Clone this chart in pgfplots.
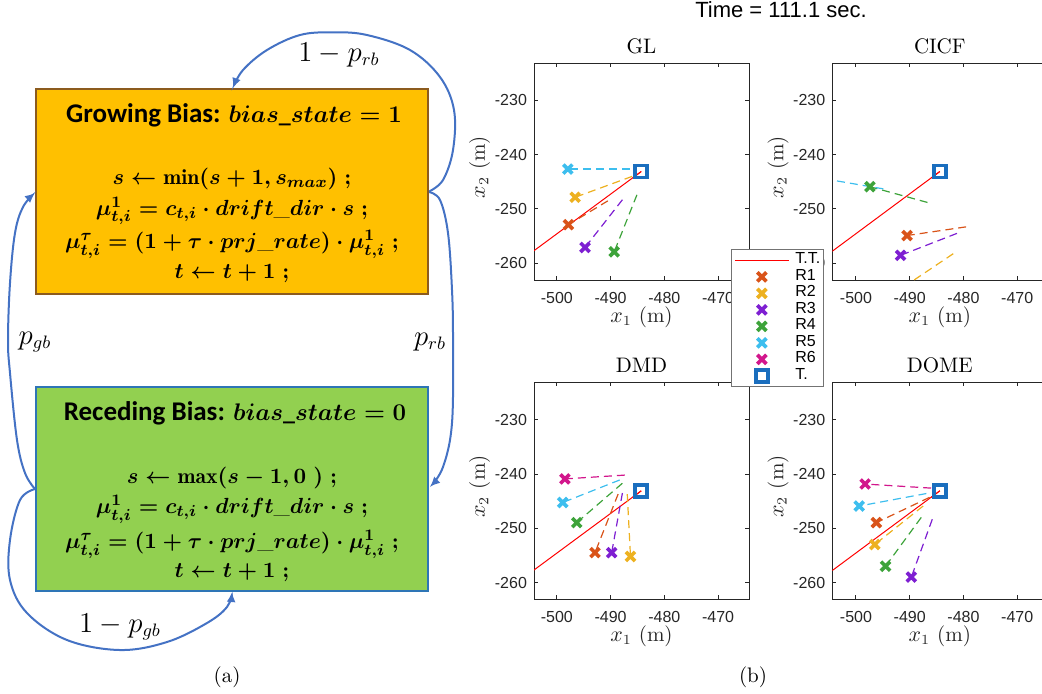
\documentclass[border=0pt]{standalone}
\usepackage{pgfplots}
\pgfplotsset{compat=1.18}
\usepackage{fontspec}
\newfontfamily\helv{Liberation Sans}
\newfontfamily\calib{Carlito}
\usetikzlibrary{arrows.meta}
\definecolor{orfill}{HTML}{FFC000}
\definecolor{orbrd}{HTML}{8C5B1E}
\definecolor{grfill}{HTML}{92D050}
\definecolor{grbrd}{HTML}{2E75B6}
\definecolor{arrblue}{HTML}{4472C4}
\definecolor{cA}{HTML}{D95319}
\definecolor{cB}{HTML}{EDB120}
\definecolor{cC}{HTML}{7E1FD2}
\definecolor{cD}{HTML}{3DA33A}
\definecolor{cE}{HTML}{3DBEEE}
\definecolor{cF}{HTML}{D2168C}
\definecolor{tblue}{HTML}{1A6EBE}
\definecolor{axgray}{HTML}{262626}
\newcommand{\TitleFont}{\calib\bfseries\fontsize{13.5}{16}\selectfont}
\newcommand{\EqFont}{\fontsize{10.8}{13}\selectfont}
\newcommand{\LblFont}{\fontsize{13.5}{16}\selectfont}
\newcommand{\us}{\mbox{\textunderscore}}
\newcommand{\eq}[1]{{\boldmath$#1$}}
\newcommand{\eqT}[1]{{\fontsize{12}{14}\selectfont\boldmath$#1$}}
\tikzset{eqline/.style={anchor=base, inner sep=0pt, font=\EqFont, text height=7pt, text depth=2.5pt}}
\pgfplotsset{
  panel/.style={
    scale only axis, width=107.5pt, height=108.5pt,
    ymin=-263.1, ymax=-223.1,
    xtick={-500,-490,-480,-470}, xticklabels={-500,-490,-480,-470},
    ytick={-260,-250,-240,-230}, yticklabels={-260,-250,-240,-230},
    axis line style={axgray, line width=0.5pt},
    tick style={axgray, line width=0.5pt},
    tick align=inside, major tick length=2pt,
    tick label style={font=\helv\fontsize{8}{9}\selectfont, text=axgray},
    xticklabel style={yshift=-2.4pt},
    xlabel={$x_1$ (m)}, ylabel={$x_2$ (m)},
    label style={font=\fontsize{10.5}{12}\selectfont, text=axgray},
    xlabel style={at={(axis description cs:0.5,-0.1935)}, anchor=base},
    ylabel style={at={(axis description cs:-0.228,0.52)}, anchor=base},
    title style={at={(axis description cs:0.5,1)}, anchor=base, yshift=-1pt, font=\fontsize{10.5}{12}\selectfont},
    clip=true,
  },
  tt/.style={red, line width=0.5pt, no markers, forget plot},
  rob/.style={only marks, mark=x, mark size=3.2pt, line width=1.8pt, color=#1, forget plot},
  est/.style={#1, line width=0.6pt, dash pattern=on 4pt off 2.5pt, no markers, forget plot},
  tgt/.style={only marks, mark=square, mark size=3pt, line width=1.8pt, color=tblue, forget plot},
}
\begin{document}
\begin{tikzpicture}
\path[use as bounding box] (0,0) rectangle (521pt,-346.5pt);
\clip (0,0) rectangle (521pt,-346.5pt);
\begin{scope}[x=0.5pt,y=-0.5pt]
% ---------- flowchart ----------
\draw[draw=orbrd, fill=orfill, line width=1pt] (36,89) rectangle (428,294);
\draw[draw=grbrd, fill=grfill, line width=1pt] (36,387) rectangle (428,591);
\path (234,122.7) node[anchor=base, inner sep=0pt, font=\TitleFont] {Growing Bias: \eqT{bias\us state = 1}};
\path (232,184.3) node[eqline] {\eq{s \leftarrow \min(s+1, s_{max})\;;}};
\path (232,215) node[eqline] {\eq{\mu^{1}_{t,i} = c_{t,i}\cdot drift\us dir\cdot s\;;}};
\path (232,248.3) node[eqline] {\eq{\mu^{\tau}_{t,i} = (1+\tau\cdot prj\us rate)\cdot \mu^{1}_{t,i}\;;}};
\path (232,278.3) node[eqline] {\eq{t \leftarrow t+1\;;}};
\path (235,420) node[anchor=base, inner sep=0pt, font=\TitleFont] {Receding Bias: \eqT{bias\us state = 0}};
\path (232,483.3) node[eqline] {\eq{s \leftarrow \max(s-1, 0\ )\;;}};
\path (232,513.3) node[eqline] {\eq{\mu^{1}_{t,i} = c_{t,i}\cdot drift\us dir\cdot s\;;}};
\path (232,548.3) node[eqline] {\eq{\mu^{\tau}_{t,i} = (1+\tau\cdot prj\us rate)\cdot \mu^{1}_{t,i}\;;}};
\path (232,577.3) node[eqline] {\eq{t \leftarrow t+1\;;}};
% arrows
\begin{scope}[arrblue, line width=1pt]
\draw[-{Latex[length=5pt,width=4.5pt]}] plot[smooth, tension=0.6] coordinates {(429,191.5) (443,180) (453,150) (454,110) (440,77) (410,50) (367,35) (333,32.3) (300,35) (267,50) (243,70) (233,88)};
\draw[-{Latex[length=5pt,width=4.5pt]}] plot[smooth, tension=0.6] coordinates {(429,192) (440,200) (448,233) (452,290) (453,340) (452,423) (443,467) (430,486.7)};
\draw[-{Latex[length=5pt,width=4.5pt]}] plot[smooth, tension=0.6] coordinates {(35,489) (25,473) (17,440) (10,373) (8,340) (10,283) (15,233) (23,207) (35,193)};
\draw[-{Latex[length=5pt,width=4.5pt]}] plot[smooth, tension=0.6] coordinates {(35,489) (20,500) (10,540) (10,580) (27,613) (67,640) (120,650) (167,642) (207,623) (227,607) (232,592)};
\end{scope}
\path (339,55) node[font=\LblFont] {$1-p_{rb}$};
\path (35,342) node[font=\LblFont] {$p_{gb}$};
\path (430,342) node[font=\LblFont] {$p_{rb}$};
\path (120,627) node[font=\LblFont] {$1-p_{gb}$};
\path (227,677) node[font=\fontsize{10.5}{12}\selectfont] {(a)};
\path (753,677) node[font=\fontsize{10.5}{12}\selectfont] {(b)};
\path (781,17.5) node[anchor=base, font=\helv\fontsize{11}{13}\selectfont] {Time = 111.1 sec.};
\end{scope}
% ---------- CICF ----------
\begin{axis}[panel, at={(416.15pt,-140pt)}, anchor=south west, xmin=-504.4, xmax=-464.4, title={CICF}]
\addplot[tt] coordinates {(-484.4,-243.1) (-510,-261.9)};
\addplot[est=cA] coordinates {(-479.5,-253.3) (-490.5,-254.9)};
\addplot[rob=cA] coordinates {(-490.5,-254.9)};
\addplot[est=cB] coordinates {(-481.9,-258.25) (-494,-266.3)};
\addplot[rob=cB] coordinates {(-494,-266.3)};
\addplot[est=cC] coordinates {(-481.2,-254.5) (-491.7,-258.55)};
\addplot[rob=cC] coordinates {(-491.7,-258.55)};
\addplot[est=cD] coordinates {(-486.7,-248.8) (-497.4,-245.9)};
\addplot[rob=cD] coordinates {(-497.4,-245.9)};
\addplot[est=cE] coordinates {(-494.9,-246.3) (-512,-243.4)};
\addplot[rob=cE] coordinates {(-512,-243.4)};
\addplot[tgt] coordinates {(-484.4,-243.1)};
\addplot[tt] coordinates {(-484.4,-243.1) (-486,-244.3)};
\end{axis}
% ---------- DMD ----------
\begin{axis}[panel, at={(267pt,-299.65pt)}, anchor=south west, xmin=-504.25, xmax=-464.25, title={DMD}]
\addplot[tt] coordinates {(-484.3,-243.1) (-510,-261.9)};
\addplot[est=cA] coordinates {(-488.6,-243.7) (-492.9,-254.5)};
\addplot[rob=cA] coordinates {(-492.9,-254.5)};
\addplot[est=cB] coordinates {(-486.9,-243.7) (-486.3,-255.2)};
\addplot[rob=cB] coordinates {(-486.3,-255.2)};
\addplot[est=cC] coordinates {(-487.8,-243.5) (-489.8,-254.5)};
\addplot[rob=cC] coordinates {(-489.8,-254.5)};
\addplot[est=cD] coordinates {(-487.8,-241.7) (-496.3,-248.96)};
\addplot[rob=cD] coordinates {(-496.3,-248.96)};
\addplot[est=cE] coordinates {(-488.3,-241.1) (-498.9,-245.25)};
\addplot[rob=cE] coordinates {(-498.9,-245.25)};
\addplot[est=cF] coordinates {(-487.35,-240.2) (-498.5,-240.9)};
\addplot[rob=cF] coordinates {(-498.5,-240.9)};
\addplot[tgt] coordinates {(-484.3,-243.1)};
\addplot[tt] coordinates {(-484.3,-243.1) (-485.9,-244.3)};
\end{axis}
% ---------- DOME ----------
\begin{axis}[panel, at={(416.15pt,-299.65pt)}, anchor=south west, xmin=-504.4, xmax=-464.4, title={DOME}]
\addplot[tt] coordinates {(-484.4,-243.1) (-510,-261.9)};
\addplot[est=cA] coordinates {(-486.3,-244.3) (-496.2,-248.96)};
\addplot[rob=cA] coordinates {(-496.2,-248.96)};
\addplot[est=cB] coordinates {(-487.5,-245.9) (-496.5,-253)};
\addplot[rob=cB] coordinates {(-496.5,-253)};
\addplot[est=cC] coordinates {(-485.8,-248.35) (-489.7,-259)};
\addplot[rob=cC] coordinates {(-489.7,-259)};
\addplot[est=cD] coordinates {(-487.85,-248) (-494.5,-257)};
\addplot[rob=cD] coordinates {(-494.5,-257)};
\addplot[est=cE] coordinates {(-486.9,-243.6) (-499.4,-245.9)};
\addplot[rob=cE] coordinates {(-499.4,-245.9)};
\addplot[est=cF] coordinates {(-486,-242.6) (-498.3,-241.85)};
\addplot[rob=cF] coordinates {(-498.3,-241.85)};
\addplot[tgt] coordinates {(-484.4,-243.1)};
\addplot[tt] coordinates {(-484.4,-243.1) (-486,-244.3)};
\end{axis}
% ---------- GL (with legend) ----------
\begin{axis}[panel, at={(267pt,-140pt)}, anchor=south west, xmin=-504.25, xmax=-464.25, title={GL},
  legend image code/.code={\draw[mark repeat=2,mark phase=2,#1] plot coordinates {(0pt,0pt) (13.5pt,0pt) (27pt,0pt)};},
  legend cell align=left,
  legend style={at={(axis description cs:0.9163,0.1415)}, anchor=north west, draw=black!55, fill=white,
    font=\helv\fontsize{8}{9}\selectfont, inner xsep=1.5pt, inner ysep=1.2pt, row sep=0pt,
    nodes={inner sep=0pt, text height=5.8pt, text depth=2.45pt},
    /tikz/every odd column/.style={column sep=3pt}}]
\addplot[tt] coordinates {(-484.3,-243.1) (-510,-261.9)};
\addplot[est=cA] coordinates {(-490.5,-248.5) (-497.85,-252.9)};
\addplot[rob=cA] coordinates {(-497.85,-252.9)};
\addplot[est=cB] coordinates {(-486,-244) (-496.6,-247.85)};
\addplot[rob=cB] coordinates {(-496.6,-247.85)};
\addplot[est=cC] coordinates {(-487.8,-248.3) (-494.76,-257.1)};
\addplot[rob=cC] coordinates {(-494.76,-257.1)};
\addplot[est=cD] coordinates {(-485.1,-247.4) (-489.33,-257.9)};
\addplot[rob=cD] coordinates {(-489.33,-257.9)};
\addplot[est=cE] coordinates {(-486.4,-242.65) (-497.96,-242.65)};
\addplot[rob=cE] coordinates {(-497.96,-242.65)};
\addplot[tgt] coordinates {(-484.3,-243.1)};
\addplot[tt] coordinates {(-484.3,-243.1) (-485.9,-244.3)};
\addlegendimage{red, line width=0.5pt, no markers}
\addlegendentry{T.T.}
\addlegendimage{only marks, mark=x, mark size=3.2pt, line width=1.8pt, cA}
\addlegendentry{R1}
\addlegendimage{only marks, mark=x, mark size=3.2pt, line width=1.8pt, cB}
\addlegendentry{R2}
\addlegendimage{only marks, mark=x, mark size=3.2pt, line width=1.8pt, cC}
\addlegendentry{R3}
\addlegendimage{only marks, mark=x, mark size=3.2pt, line width=1.8pt, cD}
\addlegendentry{R4}
\addlegendimage{only marks, mark=x, mark size=3.2pt, line width=1.8pt, cE}
\addlegendentry{R5}
\addlegendimage{only marks, mark=x, mark size=3.2pt, line width=1.8pt, cF}
\addlegendentry{R6}
\addlegendimage{only marks, mark=square, mark size=3pt, line width=1.8pt, tblue}
\addlegendentry{T.}
\end{axis}
\end{tikzpicture}
\end{document}
